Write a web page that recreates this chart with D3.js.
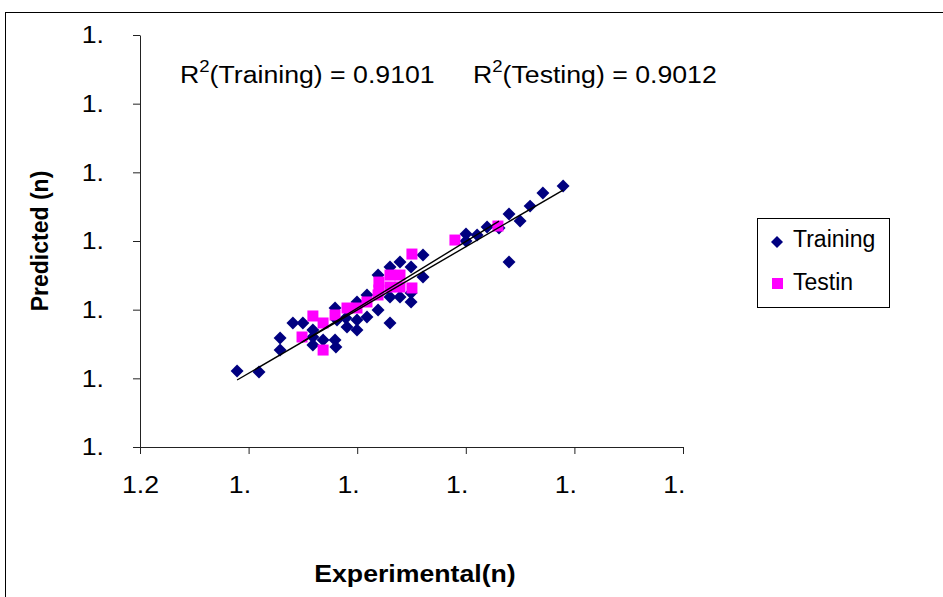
<!DOCTYPE html>
<html>
<head>
<title>Predicted vs Experimental</title>
<script src="https://cdn.jsdelivr.net/npm/d3@7"></script>
<style>
body { margin: 0; background: #fff; }
svg { font-family: "Liberation Sans", Arial, sans-serif; }
</style>
<script>
// axis ticks, labels are cut off in the original chart
var xTicks = [1.20, 1.25, 1.30, 1.35, 1.40, 1.45];
var xTickLabels = ['1.2', '1.', '1.', '1.', '1.', '1.'];
var yTicks = [1.20, 1.25, 1.30, 1.35, 1.40, 1.45, 1.50];
var yTickLabels = ['1.', '1.', '1.', '1.', '1.', '1.', '1.'];

// [experimental, predicted]
var training = [
  [1.2447, 1.2553], [1.2548, 1.2546], [1.2645, 1.2794], [1.2645, 1.2706],
  [1.2704, 1.2903], [1.2750, 1.2903], [1.2796, 1.2852], [1.2796, 1.2743],
  [1.2796, 1.2801], [1.2843, 1.2779], [1.2898, 1.2779], [1.2902, 1.2728],
  [1.2898, 1.3012], [1.2953, 1.2874], [1.2907, 1.2925], [1.2948, 1.2939],
  [1.2999, 1.2925], [1.2999, 1.2852], [1.2999, 1.3056], [1.3045, 1.2946],
  [1.3045, 1.3107], [1.3096, 1.2997], [1.3096, 1.3252], [1.3151, 1.2903],
  [1.3151, 1.3092], [1.3151, 1.3310], [1.3197, 1.3347], [1.3197, 1.3092],
  [1.3248, 1.3310], [1.3248, 1.3056], [1.3248, 1.3121], [1.3303, 1.3398],
  [1.3303, 1.3238], [1.3501, 1.3551], [1.3501, 1.3500], [1.3552, 1.3543],
  [1.3598, 1.3602], [1.3653, 1.3594], [1.3699, 1.3696], [1.3750, 1.3645],
  [1.3796, 1.3754], [1.3855, 1.3849], [1.3948, 1.3900], [1.3699, 1.3347]
];
var testing = [
  [1.2746, 1.2801], [1.2796, 1.2954], [1.2843, 1.2903], [1.2843, 1.2706],
  [1.2898, 1.2961], [1.2953, 1.3012], [1.2999, 1.3012], [1.3045, 1.3056],
  [1.3100, 1.3201], [1.3151, 1.3252], [1.3197, 1.3252], [1.3100, 1.3143],
  [1.3151, 1.3165], [1.3197, 1.3165], [1.3252, 1.3158], [1.3096, 1.3107],
  [1.3252, 1.3405], [1.3450, 1.3507], [1.3648, 1.3609]
];

// linear trendlines, end points
var trainFit = [[1.2447, 1.2488], [1.3948, 1.3871]];
var testFit = [[1.2746, 1.2764], [1.3653, 1.3645]];

var r2Labels = ['(Training) = 0.9101', '(Testing) = 0.9012'];
var seriesNames = ['Training', 'Testin'];

var STRETCH = 1.16; // original picture is a bit wider than tall

var draw = function() {
  var svg = d3.select('svg');

  // outer chart frame, runs off the right and bottom
  svg.append('rect')
    .attr('x', 5.5).attr('y', 12.5)
    .attr('width', 1000).attr('height', 700)
    .attr('fill', 'none').attr('stroke', '#000');

  var x = d3.scaleLinear().domain([1.20, 1.45]).range([140, 683]);
  var y = d3.scaleLinear().domain([1.20, 1.50]).range([447, 35]);

  var yAxis = svg.append('g')
    .attr('transform', 'translate(140,0)')
    .call(d3.axisLeft(y).tickValues(yTicks).tickSize(7).tickSizeOuter(0)
      .tickFormat(function(d, i) { return yTickLabels[i]; }));
  yAxis.selectAll('text')
    .attr('x', -36 / STRETCH).attr('dy', '0.34em')
    .attr('transform', 'scale(' + STRETCH + ',1)');

  var xAxis = svg.append('g')
    .attr('transform', 'translate(0,447)')
    .call(d3.axisBottom(x).tickValues(xTicks).tickSize(7).tickSizeOuter(0)
      .tickFormat(function(d, i) { return xTickLabels[i]; }));
  xAxis.selectAll('text')
    .attr('y', 46).attr('dy', 0)
    .attr('text-anchor', function(d, i) { return i === 0 ? 'middle' : 'end'; })
    .attr('x', function(d, i) { return i === 0 ? 0 : 2 / STRETCH; })
    .attr('transform', 'scale(' + STRETCH + ',1)');

  svg.selectAll('.domain, .tick line').attr('stroke', '#222');
  svg.selectAll('.tick text').attr('font-size', 23).attr('fill', '#000')
    .attr('font-family', '"Liberation Sans", Arial, sans-serif');

  // training markers (diamonds)
  var diamond = d3.symbol().type(d3.symbolSquare).size(84);
  svg.append('g').selectAll('path')
    .data(training).join('path')
    .attr('d', diamond)
    .attr('transform', function(d) {
      return 'translate(' + x(d[0]) + ',' + y(d[1]) + ') rotate(45)';
    })
    .attr('fill', '#000080');

  // testing markers (squares)
  svg.append('g').selectAll('rect')
    .data(testing).join('rect')
    .attr('x', function(d) { return x(d[0]) - 5.5; })
    .attr('y', function(d) { return y(d[1]) - 5.5; })
    .attr('width', 11).attr('height', 11)
    .attr('fill', '#ff00ff');

  // trendlines
  var line = d3.line().x(function(d) { return x(d[0]); }).y(function(d) { return y(d[1]); });
  svg.selectAll('.fit')
    .data([trainFit, testFit]).join('path')
    .attr('class', 'fit')
    .attr('d', line)
    .attr('fill', 'none').attr('stroke', '#000').attr('stroke-width', 1.4);

  // R squared annotations
  var r2x = [180, 473];
  r2Labels.forEach(function(lab, i) {
    var t = svg.append('text')
      .attr('transform', 'translate(' + r2x[i] + ',83) scale(' + STRETCH + ',1)')
      .attr('font-size', 23);
    t.append('tspan').text('R');
    t.append('tspan').text('2').attr('font-size', 16).attr('dy', -11);
    t.append('tspan').text(lab).attr('dy', 11);
  });

  // axis titles
  svg.append('text')
    .attr('transform', 'translate(415,582) scale(' + STRETCH + ',1)')
    .attr('text-anchor', 'middle')
    .attr('font-size', 23).attr('font-weight', 'bold')
    .text('Experimental(n)');
  svg.append('text')
    .attr('transform', 'translate(48,241) rotate(-90)')
    .attr('text-anchor', 'middle')
    .attr('font-size', 23).attr('font-weight', 'bold')
    .text('Predicted (n)');

  // legend
  var legend = svg.append('g');
  legend.append('rect')
    .attr('x', 757.5).attr('y', 218.5)
    .attr('width', 132).attr('height', 89)
    .attr('fill', '#fff').attr('stroke', '#000');
  legend.append('path')
    .attr('d', d3.symbol().type(d3.symbolSquare).size(72))
    .attr('transform', 'translate(777,242) rotate(45)')
    .attr('fill', '#000080');
  legend.append('rect')
    .attr('x', 772).attr('y', 278)
    .attr('width', 11).attr('height', 11)
    .attr('fill', '#ff00ff');
  legend.selectAll('.ltxt')
    .data(seriesNames).join('text')
    .attr('class', 'ltxt')
    .attr('x', 793)
    .attr('y', function(d, i) { return 247 + i * 43; })
    .attr('font-size', 23)
    .text(function(d) { return d; });
}

window.onload = function() {
  draw();
}
</script>
</head>
<body>
<svg id="chart" width="943" height="597"></svg>
</body>
</html>
